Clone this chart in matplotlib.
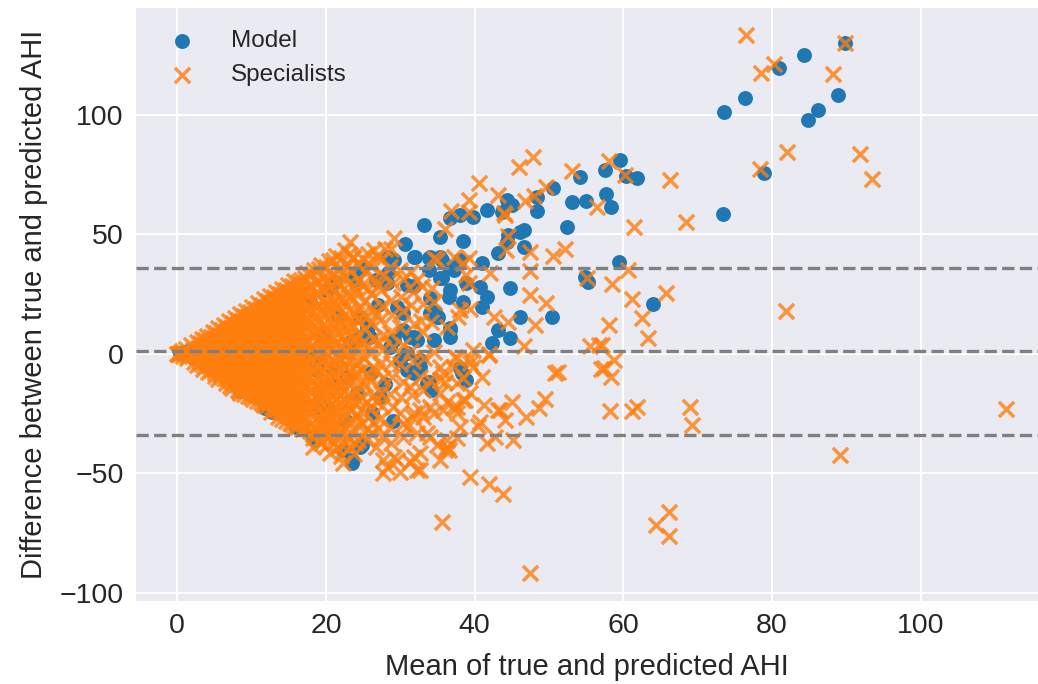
import matplotlib
matplotlib.use('Agg')
import matplotlib.pyplot as plt

# Bland-Altman points: (mean of true and predicted AHI, true - predicted AHI)

# model, low-AHI region (largely covered by the specialist crosses)
model_core = [
    (0.3, 0.2), (0.9, -0.6), (1.5, 1.1), (2.2, -1.8), (2.8, 2.5), (3.5, -0.7), (4.2, 3.9),
    (4.8, -3.6), (5.5, 1.2), (6.1, 6.8), (6.7, -5.9), (7.4, 3.1), (8.0, -9.8), (8.5, -15.5),
    (8.7, 9.4), (9.3, -2.7), (9.9, 13.8), (10.5, -11.9), (11.1, 5.6), (11.8, -22.5), (12.0, 19.0),
    (12.4, -6.4), (12.8, -24.5), (13.1, 15.2), (13.7, -16.8), (14.2, 1.9), (14.8, 21.4), (15.3, -9.1),
    (16.0, -30.5), (16.1, 10.7), (16.6, -21.3), (17.0, 20.4), (17.0, -4.0), (17.4, 0.2), (17.9, 21.7),
    (18.2, -35.0), (18.5, -36.0), (18.8, -6.8), (19.2, -18.0), (19.2, -2.6), (19.2, -23.5), (19.8, 8.6),
    (20.1, 26.6), (20.1, -22.1), (20.8, -5.4), (21.0, -12.4), (21.2, 30.1), (21.6, 16.2), (22.3, -40.2),
    (22.5, -27.5), (22.8, -9.6), (23.2, 4.8), (23.5, -44.4), (23.5, -45.8), (23.9, 32.2), (23.9, 30.8),
    (24.1, 33.6), (24.2, -16.5), (24.6, 7.1), (24.6, 15.5), (24.6, -38.9), (24.8, -38.2), (24.8, 35.7),
    (25.5, 9.9), (25.5, 11.3), (25.9, 7.1), (26.2, -24.9), (26.0, -8.0), (26.8, 30.8), (27.3, -18.0),
    (27.0, 20.5), (28.2, 29.4), (28.4, 33.6), (28.4, 40.5), (28.6, 2.9), (28.0, -12.5), (29.1, 39.4),
    (29.1, 5.7), (29.5, 19.6), (29.0, -28.0), (30.0, -2.6), (30.4, 9.9), (30.4, 16.9), (30.6, 46.1),
    (30.9, 28.7), (30.9, 0.2), (30.9, -6.8), (31.3, 7.1), (31.8, 28.3), (31.8, 40.3), (31.8, 7.1),
    (31.8, -8.2), (32.0, 40.5), (32.2, 5.7), (32.7, -5.4), (32.7, -2.6), (33.2, 53.8), (33.6, -12.4),
    (33.8, 39.9), (33.8, 35.0), (33.8, -11.7), (34.0, 40.3), (34.0, 23.2), (34.0, 16.9), (34.2, -15.2),
    (34.5, 5.7), (34.7, 17.6), (34.9, 15.5),
]

# model, higher AHI
model_outer = [
    (35.1, 15.5), (35.4, 48.9), (35.4, 31.5), (35.4, 40.5), (35.6, 39.2), (35.6, 31.5), (36.5, 36.1),
    (36.5, 23.8), (36.7, 56.6), (36.7, 26.6), (36.7, 10.6), (36.7, 9.9), (36.7, 7.1), (37.2, 35.0),
    (38.0, 58.0), (38.0, 39.2), (38.4, 47.2), (38.5, 21.7), (38.9, 29.4), (38.1, -6.1), (38.3, -8.2),
    (38.9, -11.0), (39.8, 57.3), (40.7, 28.0), (41.0, 37.8), (41.0, 19.6), (41.6, 60.3), (41.6, 23.8),
    (42.3, 4.3), (43.2, 42.0), (43.2, 9.9), (43.7, 59.3), (44.3, 64.2), (44.3, 46.8), (44.5, 49.6),
    (44.8, 27.3), (44.8, 6.8), (45.0, 62.1), (46.1, 51.0), (46.6, 51.7), (46.6, 44.5), (46.1, 15.5),
    (48.4, 65.6), (48.4, 59.6), (50.4, 15.5), (50.5, 69.4), (52.4, 52.8), (53.1, 63.3), (54.2, 74.0),
    (54.9, 32.2), (55.0, 63.9), (55.3, 30.1), (57.6, 76.9), (57.7, 66.6), (58.3, 61.2), (59.4, 38.4),
    (59.6, 80.9), (60.4, 74.4), (61.8, 73.3), (64.0, 20.8), (73.4, 58.5), (73.6, 101.0), (76.4, 107.0),
    (79.0, 75.6), (81.0, 119.4), (84.3, 124.8), (84.9, 97.7), (86.2, 101.8), (88.9, 108.2), (89.9, 130.0),
]

# specialists, solid low-AHI wedge
spec_core = [
    (0.0, 0.0), (0.1, 0.1), (0.2, -0.3), (0.3, 0.5), (0.6, 1.0), (0.8, -0.9), (0.7, 0.2),
    (1.2, 2.2), (1.4, 0.3), (1.3, -1.9), (1.5, -0.8), (1.9, 3.6), (2.1, 1.4), (2.0, -0.9), (2.2, -3.5),
    (2.6, 4.9), (2.8, 2.4), (2.7, 0.2), (2.9, -2.6), (2.6, -4.8),
    (3.3, 6.3), (3.5, 3.5), (3.4, 1.2), (3.6, -1.4), (3.3, -4.3), (3.5, -6.5),
    (4.0, 7.6), (4.2, 5.2), (4.1, 2.2), (4.3, -0.1), (4.0, -3.1), (4.2, -5.3), (4.1, -7.7),
    (4.8, 9.2), (5.0, 6.4), (4.9, 4.0), (5.1, 0.8), (4.8, -1.5), (5.0, -4.7), (4.9, -6.9), (5.1, -9.5),
    (5.5, 10.7), (5.7, 7.8), (5.6, 5.3), (5.8, 2.1), (5.5, -0.6), (5.7, -2.9), (5.6, -6.2), (5.8, -8.4), (5.5, -10.6),
    (6.3, 12.1), (6.5, 9.7), (6.4, 6.4), (6.6, 4.1), (6.3, 0.9), (6.5, -1.6), (6.4, -4.6), (6.6, -7.0),
    (6.3, -10.1), (6.5, -12.4),
    (7.0, 13.7), (7.2, 10.6), (7.1, 8.3), (7.3, 5.1), (7.0, 2.7), (7.2, -0.4), (7.1, -2.8), (7.3, -6.0),
    (7.0, -8.3), (7.2, -11.4), (7.1, -13.6),
    (7.8, 15.1), (8.0, 12.6), (7.9, 9.4), (8.1, 7.1), (7.8, 3.9), (8.0, 1.5), (7.9, -1.6), (8.1, -4.0),
    (7.8, -7.2), (8.0, -9.5), (7.9, -12.7), (8.1, -15.1),
    (8.5, 16.7), (8.7, 13.6), (8.6, 11.3), (8.8, 8.1), (8.5, 5.7), (8.7, 2.6), (8.6, 0.2), (8.8, -3.0),
    (8.5, -5.4), (8.7, -8.5), (8.6, -10.9), (8.8, -14.0), (8.5, -16.2),
    (9.3, 18.0), (9.5, 15.6), (9.4, 12.4), (9.6, 10.1), (9.3, 6.9), (9.5, 4.6), (9.4, 1.4), (9.6, -1.0),
    (9.3, -4.2), (9.5, -6.5), (9.4, -9.7), (9.6, -12.0), (9.3, -15.2), (9.5, -17.6),
    (10.1, 19.7), (10.3, 16.7), (10.2, 14.3), (10.4, 11.2), (10.1, 8.8), (10.3, 5.7), (10.2, 3.3),
    (10.4, 0.2), (10.1, -2.2), (10.3, -5.4), (10.2, -7.7), (10.4, -10.9), (10.1, -13.2), (10.3, -16.4),
    (10.2, -18.8),
    (10.9, 21.1), (11.1, 18.6), (11.0, 15.5), (11.2, 13.1), (10.9, 10.0), (11.1, 7.6), (11.0, 4.5),
    (11.2, 2.1), (10.9, -1.0), (11.1, -3.4), (11.0, -6.5), (11.2, -8.9), (10.9, -12.0), (11.1, -14.4),
    (11.0, -17.5), (11.2, -20.0),
    (11.7, 22.7), (11.9, 19.7), (11.8, 17.3), (12.0, 14.2), (11.7, 11.8), (11.9, 8.7), (11.8, 6.3),
    (12.0, 3.2), (11.7, 0.8), (11.9, -2.3), (11.8, -4.7), (12.0, -7.8), (11.7, -10.2), (11.9, -13.3),
    (11.8, -15.7), (12.0, -18.8), (11.7, -21.4),
    (12.5, 24.1), (12.7, 21.6), (12.6, 18.5), (12.8, 16.1), (12.5, 13.0), (12.7, 10.6), (12.6, 7.5),
    (12.8, 5.1), (12.5, 2.0), (12.7, -0.4), (12.6, -3.5), (12.8, -5.9), (12.5, -9.0), (12.7, -11.4),
    (12.6, -14.5), (12.8, -16.9), (12.5, -20.0), (12.7, -22.4), (12.6, -24.3),
    (13.3, 25.8), (13.5, 22.8), (13.4, 20.4), (13.6, 17.3), (13.3, 14.9), (13.5, 11.8), (13.4, 9.4),
    (13.6, 6.3), (13.3, 3.9), (13.5, 0.8), (13.4, -1.6), (13.6, -4.7), (13.3, -7.1), (13.5, -10.2),
    (13.4, -12.6), (13.6, -15.7), (13.3, -18.1), (13.5, -21.2), (13.4, -23.6), (13.6, -26.3),
    (14.1, 27.2), (14.3, 24.8), (14.2, 21.6), (14.4, 19.3), (14.1, 16.1), (14.3, 13.8), (14.2, 10.6),
    (14.4, 8.3), (14.1, 5.1), (14.3, 2.8), (14.2, -0.4), (14.4, -2.7), (14.1, -5.9), (14.3, -8.2),
    (14.2, -11.4), (14.4, -13.7), (14.1, -16.9), (14.3, -19.2), (14.2, -22.4), (14.4, -24.7), (14.1, -27.3),
    (14.9, 28.9), (15.1, 25.9), (15.0, 23.5), (15.2, 20.4), (14.9, 18.0), (15.1, 14.9), (15.0, 12.5),
    (15.2, 9.4), (14.9, 7.0), (15.1, 3.9), (15.0, 1.5), (15.2, -1.6), (14.9, -4.0), (15.1, -7.1),
    (15.0, -9.5), (15.2, -12.6), (14.9, -15.0), (15.1, -18.1), (15.0, -20.5), (15.2, -23.6),
    (14.9, -26.0), (15.1, -28.9),
    (15.7, 30.3), (15.9, 27.3), (15.8, 24.9), (16.0, 21.8), (15.7, 19.4), (15.9, 16.3), (15.8, 13.9),
    (16.0, 10.8), (15.7, 8.4), (15.9, 5.3), (15.8, 2.9), (16.0, -0.2), (15.7, -2.6), (15.9, -5.7),
    (15.8, -8.1), (16.0, -11.2), (15.7, -13.6), (15.9, -16.7), (15.8, -19.1), (16.0, -22.2),
    (15.7, -24.6), (15.9, -27.7), (15.8, -30.0),
]

# specialists, further points packed between the ones above
spec_fill = [
    (3.0, 4.5), (2.9, 1.8), (3.1, -0.9), (3.0, -3.6),
    (3.7, 5.8), (3.8, 3.0), (3.6, 0.3), (3.8, -2.4), (3.7, -5.2),
    (4.5, 7.2), (4.4, 4.4), (4.6, 1.6), (4.5, -1.2), (4.4, -4.0), (4.6, -6.8),
    (5.2, 8.6), (5.3, 5.9), (5.1, 3.1), (5.3, 0.3), (5.2, -2.4), (5.3, -5.2), (5.1, -8.0),
    (6.0, 10.0), (5.9, 7.2), (6.1, 4.5), (6.0, 1.7), (5.9, -1.0), (6.1, -3.8), (6.0, -6.5), (5.9, -9.3),
    (6.7, 11.4), (6.8, 8.6), (6.6, 5.9), (6.8, 3.1), (6.7, 0.3), (6.8, -2.4), (6.6, -5.2), (6.8, -7.9),
    (6.7, -10.7),
    (7.5, 12.9), (7.4, 10.1), (7.6, 7.4), (7.5, 4.6), (7.4, 1.9), (7.6, -0.9), (7.5, -3.6), (7.4, -6.4),
    (7.6, -9.1), (7.5, -11.9), (7.4, -14.3),
    (8.2, 14.3), (8.3, 11.6), (8.1, 8.8), (8.3, 6.1), (8.2, 3.3), (8.3, 0.6), (8.1, -2.2), (8.3, -4.9),
    (8.2, -7.7), (8.3, -10.4), (8.1, -13.2), (8.3, -15.6),
    (9.0, 15.9), (8.9, 13.1), (9.1, 10.4), (9.0, 7.6), (8.9, 4.9), (9.1, 2.1), (9.0, -0.6), (8.9, -3.4),
    (9.1, -6.1), (9.0, -8.9), (8.9, -11.6), (9.1, -14.4), (9.0, -16.8),
    (9.8, 17.4), (9.9, 14.6), (9.7, 11.9), (9.9, 9.1), (9.8, 6.4), (9.9, 3.6), (9.7, 0.9), (9.9, -1.9),
    (9.8, -4.6), (9.9, -7.4), (9.7, -10.1), (9.9, -12.9), (9.8, -15.6), (9.9, -18.2),
    (10.6, 18.9), (10.5, 16.1), (10.7, 13.4), (10.6, 10.6), (10.5, 7.9), (10.7, 5.1), (10.6, 2.4),
    (10.5, -0.4), (10.7, -3.1), (10.6, -5.9), (10.5, -8.6), (10.7, -11.4), (10.6, -14.1), (10.5, -16.9),
    (10.7, -19.6),
    (11.4, 20.5), (11.5, 17.7), (11.3, 15.0), (11.5, 12.2), (11.4, 9.5), (11.5, 6.7), (11.3, 4.0),
    (11.5, 1.2), (11.4, -1.5), (11.5, -4.3), (11.3, -7.0), (11.5, -9.8), (11.4, -12.5), (11.5, -15.3),
    (11.3, -18.0), (11.5, -20.8),
    (12.2, 22.0), (12.1, 19.2), (12.3, 16.5), (12.2, 13.7), (12.1, 11.0), (12.3, 8.2), (12.2, 5.5),
    (12.1, 2.7), (12.3, 0.0), (12.2, -2.8), (12.1, -5.5), (12.3, -8.3), (12.2, -11.0), (12.1, -13.8),
    (12.3, -16.5), (12.2, -19.3), (12.1, -22.0),
    (13.0, 23.6), (13.1, 20.8), (12.9, 18.1), (13.1, 15.3), (13.0, 12.6), (13.1, 9.8), (12.9, 7.1),
    (13.1, 4.3), (13.0, 1.6), (13.1, -1.2), (12.9, -3.9), (13.1, -6.7), (13.0, -9.4), (13.1, -12.2),
    (12.9, -14.9), (13.1, -17.7), (13.0, -20.4), (13.1, -23.2),
    (13.8, 25.1), (13.7, 22.3), (13.9, 19.6), (13.8, 16.8), (13.7, 14.1), (13.9, 11.3), (13.8, 8.6),
    (13.7, 5.8), (13.9, 3.1), (13.8, 0.3), (13.7, -2.4), (13.9, -5.2), (13.8, -7.9), (13.7, -10.7),
    (13.9, -13.4), (13.8, -16.2), (13.7, -18.9), (13.9, -21.7), (13.8, -24.4),
    (14.6, 26.7), (14.7, 23.9), (14.5, 21.2), (14.7, 18.4), (14.6, 15.7), (14.7, 12.9), (14.5, 10.2),
    (14.7, 7.4), (14.6, 4.7), (14.7, 1.9), (14.5, -0.8), (14.7, -3.6), (14.6, -6.3), (14.7, -9.1),
    (14.5, -11.8), (14.7, -14.6), (14.6, -17.3), (14.7, -20.1), (14.5, -22.8), (14.7, -25.6), (14.6, -28.0),
    (15.4, 28.2), (15.3, 25.4), (15.5, 22.7), (15.4, 19.9), (15.3, 17.2), (15.5, 14.4), (15.4, 11.7),
    (15.3, 8.9), (15.5, 6.2), (15.4, 3.4), (15.3, 0.7), (15.5, -2.1), (15.4, -4.8), (15.3, -7.6),
    (15.5, -10.3), (15.4, -13.1), (15.3, -15.8), (15.5, -18.6), (15.4, -21.3), (15.3, -24.1),
    (15.5, -26.8), (15.4, -29.3),
    (16.2, 29.8), (16.3, 27.0), (16.1, 24.3), (16.3, 21.5), (16.2, 18.8), (16.3, 16.0), (16.1, 13.3),
    (16.3, 10.5), (16.2, 7.8), (16.3, 5.0), (16.1, 2.3), (16.3, -0.5), (16.2, -3.2), (16.3, -6.0),
    (16.1, -8.7), (16.3, -11.5), (16.2, -14.2), (16.3, -17.0), (16.1, -19.7), (16.3, -22.5),
    (16.2, -25.2), (16.3, -28.0), (16.1, -30.7),
    (17.2, 31.5), (17.3, 27.2), (17.1, 22.4), (17.3, 18.1), (17.2, 13.3), (17.1, 9.1), (17.3, 4.6),
    (17.2, 0.1), (17.1, -4.4), (17.3, -9.1), (17.2, -13.4), (17.1, -18.2), (17.3, -22.4), (17.2, -27.1),
    (17.1, -31.2),
    (18.1, 33.2), (18.0, 27.9), (18.2, 23.1), (18.1, 17.8), (18.0, 13.2), (18.2, 8.1), (18.1, 3.2),
    (18.0, -2.1), (18.2, -6.8), (18.1, -11.2), (18.0, -15.1), (18.2, -20.2), (18.1, -24.4), (18.0, -29.2),
    (18.2, -33.3),
    (19.0, 35.3), (19.1, 30.2), (18.9, 24.8), (19.1, 20.2), (19.0, 14.6), (18.9, 9.3), (19.1, 4.7),
    (19.0, -0.2), (18.9, -5.1), (19.1, -9.4), (19.0, -14.2), (18.9, -19.1), (19.1, -23.4), (19.0, -28.2),
    (18.9, -32.4), (19.1, -36.6),
    (20.0, 36.2), (20.1, 30.8), (19.9, 26.1), (20.1, 20.8), (20.0, 16.2), (19.9, 10.3), (20.1, 5.6),
    (20.0, 0.3), (19.9, -4.6), (20.1, -9.2), (20.0, -13.8), (19.9, -18.7), (20.1, -22.8), (20.0, -28.2),
    (19.9, -32.8), (20.1, -38.1),
    (21.0, 39.4), (21.1, 32.8), (20.9, 27.7), (21.1, 21.8), (21.0, 17.2), (20.9, 11.3), (21.1, 6.7),
    (21.0, 1.3), (20.9, -3.6), (21.1, -8.4), (21.0, -13.7), (20.9, -17.8), (21.1, -23.2), (21.0, -27.4),
    (20.9, -32.6), (21.1, -37.3),
    (22.0, 40.2), (22.1, 33.8), (21.9, 28.2), (22.1, 22.8), (22.0, 17.7), (21.9, 12.3), (22.1, 7.6),
    (22.0, 2.3), (21.9, -2.7), (22.1, -7.3), (22.0, -12.6), (21.9, -17.3), (22.1, -22.7), (22.0, -27.8),
    (21.9, -33.2), (22.1, -38.3), (22.0, -42.8),
    (23.1, 41.8), (23.2, 35.2), (23.0, 29.3), (23.2, 24.2), (23.1, 18.3), (23.0, 13.2), (23.2, 7.8),
    (23.1, 3.2), (23.0, -2.7), (23.2, -7.3), (23.1, -12.7), (23.0, -17.3), (23.2, -23.2), (23.1, -28.3),
    (23.0, -34.2), (23.2, -38.8),
    (24.3, 37.2), (24.4, 30.8), (24.2, 25.7), (24.4, 19.3), (24.3, 14.2), (24.2, 8.3), (24.4, 2.7),
    (24.3, -3.2), (24.2, -7.8), (24.4, -13.7), (24.3, -19.3), (24.2, -25.2), (24.4, -30.3), (24.3, -36.2),
    (25.6, 37.8), (25.7, 27.2), (25.5, 15.2), (25.7, 3.3), (25.6, -8.7), (25.5, -20.2), (25.7, -31.3),
    (26.9, 40.8), (27.0, 28.8), (26.8, 16.8), (27.0, 4.7), (26.9, -7.3), (26.8, -19.7), (27.0, -31.2),
]

# specialists, 16-35 band where the wedge thins out
spec_mid = [
    (16.6, 31.0), (17.0, 26.3), (16.8, 22.1), (16.5, 17.0), (16.9, 12.9), (16.7, 8.2), (17.0, 4.1),
    (16.6, -0.8), (16.9, -5.0), (16.7, -9.7), (17.0, -13.8), (16.6, -18.6), (16.9, -22.7), (16.7, -27.5),
    (16.8, -31.6),
    (17.5, 33.6), (17.9, 28.6), (17.6, 24.2), (17.8, 19.1), (17.5, 14.8), (17.9, 9.6), (17.7, 5.3),
    (17.5, 0.2), (17.8, -4.1), (17.6, -9.2), (17.9, -13.6), (17.5, -18.7), (17.8, -23.0), (17.6, -28.1),
    (17.9, -32.4),
    (18.4, 35.0), (18.7, 30.2), (18.5, 25.3), (18.8, 20.3), (18.4, 15.2), (18.6, 10.2), (18.9, 5.8),
    (18.5, 1.0), (18.7, -3.7), (18.4, -8.0), (18.8, -12.8), (18.6, -17.3), (18.5, -22.0), (18.9, -26.4),
    (18.6, -31.4), (18.3, -35.3), (18.3, -38.9),
    (19.4, 37.2), (19.8, 32.0), (19.5, 27.2), (19.7, 22.3), (19.4, 17.0), (19.8, 12.2), (19.6, 7.3),
    (19.3, 2.6), (19.7, -2.2), (19.5, -7.2), (19.8, -11.6), (19.4, -16.6), (19.6, -21.2), (19.9, -25.6),
    (19.5, -30.2), (19.7, -33.8), (19.4, -37.3),
    (20.4, 38.7), (20.8, 33.2), (20.5, 28.3), (20.7, 23.2), (20.4, 18.3), (20.9, 13.2), (20.6, 8.0),
    (20.3, 3.2), (20.8, -2.0), (20.5, -6.7), (20.7, -11.3), (20.4, -16.2), (20.8, -20.6), (20.5, -25.7),
    (20.7, -30.2), (20.6, -41.6), (20.4, -35.0),
    (21.4, 41.0), (21.8, 35.6), (21.5, 30.3), (21.7, 24.3), (21.3, 19.4), (21.9, 14.3), (21.6, 9.2),
    (21.4, 4.0), (21.8, -1.2), (21.5, -6.2), (21.7, -10.8), (21.3, -16.0), (21.9, -20.3), (21.6, -25.2),
    (21.4, -29.8), (21.8, -34.8), (21.5, -39.3),
    (22.5, 43.2), (22.9, 37.3), (22.6, 32.2), (22.8, 26.0), (22.4, 21.2), (23.0, 15.3), (22.7, 10.2),
    (22.5, 5.0), (22.9, 0.2), (22.6, -5.2), (22.8, -10.3), (22.4, -15.4), (23.0, -19.8), (22.7, -25.7),
    (22.5, -30.8), (22.9, -36.2), (22.3, -45.8),
    (23.3, 46.8), (23.7, 40.5), (23.7, 39.9), (23.9, 27.8), (23.6, 22.7), (24.0, 16.8), (23.7, 11.2),
    (23.9, 5.8), (23.6, 1.2), (24.0, -4.7), (23.7, -9.3), (23.9, -15.0), (23.6, -20.0), (24.0, -26.2),
    (23.7, -31.3), (23.9, -37.2), (23.8, -41.8),
    (24.8, 40.2), (25.2, 34.3), (24.9, 28.7), (25.1, 21.8), (24.8, 16.7), (25.2, 10.3), (24.9, 4.7),
    (25.1, -1.7), (24.8, -6.8), (25.2, -12.7), (24.9, -18.3), (25.1, -24.2), (24.8, -29.3), (25.5, -36.1),
    (25.7, 41.9), (26.4, 43.3), (26.0, 36.8), (26.4, 31.7), (26.1, 24.8), (26.3, 19.2), (26.0, 12.8),
    (26.4, 6.7), (26.1, 0.3), (26.3, -5.7), (26.0, -11.3), (26.4, -17.2), (26.1, -23.3), (26.3, -28.7),
    (26.0, -33.3), (26.8, -38.9),
    (27.9, 44.0), (27.4, 39.2), (27.7, 32.8), (27.4, 26.7), (27.6, 19.8), (27.3, 14.2), (27.7, 7.8),
    (27.5, 1.7), (27.3, -4.2), (27.7, -10.3), (27.4, -16.2), (27.6, -21.8), (27.3, -27.2), (27.6, -34.8),
    (27.7, -44.4), (27.7, -50.0), (28.2, -47.2),
    (29.1, 48.2), (28.8, 44.0), (28.6, 36.3), (29.0, 29.7), (28.7, 22.3), (28.9, 16.2), (28.6, 8.8),
    (29.0, 2.7), (28.7, -3.7), (28.9, -9.8), (28.6, -16.7), (29.0, -22.3), (28.6, -30.5), (28.8, -37.2),
    (29.1, -43.0), (29.5, -44.4),
    (30.0, 35.0), (30.3, 31.2), (30.1, 23.8), (30.4, 17.7), (30.0, 11.3), (30.3, 3.7), (30.0, -4.3),
    (30.4, -11.7), (30.1, -18.2), (30.0, -24.9), (30.3, -29.2), (30.4, -34.7), (30.0, -49.3), (30.9, -30.5),
    (31.5, 34.2), (31.7, 25.8), (31.4, 20.2), (31.8, 12.3), (31.5, 1.2), (31.7, -3.2), (31.3, -13.8),
    (31.6, -17.2), (31.7, -26.3), (31.8, -24.9), (31.8, -43.0), (31.3, -45.1),
    (32.2, 30.8), (32.9, 28.2), (33.1, 20.8), (32.8, 13.7), (33.1, 9.3), (32.7, -9.6), (33.2, -1.7),
    (32.7, -23.5), (33.1, -26.3), (32.2, -33.3), (33.6, -33.3), (32.7, -41.6), (32.2, -48.6), (32.7, -48.6),
    (33.1, -15.2), (34.0, -11.0), (34.5, 39.9), (34.3, 27.3), (34.6, 21.8), (34.2, 13.2), (34.5, 0.7),
    (34.0, -22.1), (34.5, -24.9), (34.0, -34.7), (34.9, -38.2),
]

# specialists, sparse part and outliers
spec_outer = [
    (34.9, 39.2), (35.4, -5.4), (35.4, -11.0), (35.4, -16.5), (35.8, -8.2), (36.0, -11.7), (35.8, -23.5),
    (35.4, -44.4), (35.6, -70.2), (36.0, 52.0), (36.0, -40.2), (36.3, 11.3), (36.3, -20.1), (36.3, -36.1),
    (36.3, -38.9), (36.5, -40.2), (36.8, 59.6), (37.1, -22.1), (37.2, 40.5), (37.2, -5.4), (37.4, -1.2),
    (37.6, -1.9), (37.6, -12.4), (37.6, -22.1), (37.6, -24.9), (37.6, -35.4), (37.8, 15.5), (38.0, 18.3),
    (38.0, -30.5), (38.5, 37.8), (38.5, -10.3), (38.5, -19.3), (38.7, -19.3), (38.9, 32.9), (39.2, 29.4),
    (39.2, 39.9), (39.3, 64.5), (39.3, 59.3), (39.4, 18.6), (39.4, -1.9), (39.4, -4.0), (39.4, -16.6),
    (39.4, -51.4), (39.8, 1.5), (39.8, -5.4), (40.5, -30.2), (40.6, 71.5), (40.7, -28.4), (41.0, -9.6),
    (41.3, -21.4), (41.6, -37.4), (41.9, -0.1), (42.0, -0.5), (42.0, -54.5), (42.1, 33.6), (42.6, 15.5),
    (42.8, -34.7), (43.1, 66.3), (43.2, -23.5), (43.4, -23.5), (43.8, -58.8), (43.9, 58.7), (44.1, 58.0),
    (44.1, -27.7), (44.2, 43.3), (44.5, 49.2), (44.5, 13.4), (45.0, -20.1), (45.2, -36.1), (46.0, 78.2),
    (46.6, 3.2), (46.8, 63.9), (46.9, -26.6), (47.4, 42.6), (47.4, 24.5), (47.4, -91.8), (47.5, 34.7),
    (47.8, 82.1), (48.0, 65.9), (48.1, 12.0), (48.6, -22.8), (49.5, -19.1), (49.6, 69.8), (49.6, 21.1),
    (50.6, 40.8), (50.8, -8.2), (51.2, -7.5), (52.2, 44.0), (53.1, 76.3), (55.1, 31.5), (55.5, 3.2),
    (56.5, 61.4), (56.8, 3.6), (57.0, -6.5), (57.1, 3.6), (57.4, -6.1), (58.1, 80.7), (58.1, 12.0),
    (58.2, -23.8), (58.3, -9.6), (58.5, 29.0), (58.7, -2.6), (60.3, 74.7), (60.6, 35.0), (61.2, 23.0),
    (61.2, -23.8), (61.4, 52.9), (61.8, -22.4), (62.5, 14.8), (63.3, 6.4), (64.4, -71.6), (65.8, 25.5),
    (66.2, -66.0), (66.2, -76.2), (66.3, 72.7), (68.5, 55.0), (69.0, -22.1), (69.2, -29.8), (76.5, 133.3),
    (78.4, 77.1), (78.5, 117.3), (80.3, 121.1), (81.9, 17.8), (82.0, 84.2), (88.2, 116.9), (89.1, -42.3),
    (89.9, 130.0), (91.8, 83.7), (93.5, 73.0), (111.5, -23.2),
]

# mean difference and limits of agreement
bias = 1.0
upper_loa = 35.9
lower_loa = -34.0

plt.style.use('seaborn-v0_8-darkgrid')
plt.rcParams['font.family'] = ['Liberation Sans', 'DejaVu Sans']
plt.rcParams['text.color'] = '.15'
plt.rcParams['xtick.color'] = '.15'
plt.rcParams['ytick.color'] = '.15'
plt.rcParams['axes.labelcolor'] = '.15'

model = model_core + model_outer
spec = spec_core + spec_fill + spec_mid + spec_outer
model_x = [p[0] for p in model]
model_y = [p[1] for p in model]
spec_x = [p[0] for p in spec]
spec_y = [p[1] for p in spec]

fig = plt.figure(figsize=(10.38, 6.84), dpi=100)
ax = fig.add_axes([0.131, 0.122, 0.869, 0.866])

ax.scatter(model_x, model_y, s=115, marker='o', color='#1f77b4', linewidths=0, label='Model')
ax.scatter(spec_x, spec_y, s=120, marker='x', color='#ff7f0e', alpha=0.8, linewidths=2.5,
           label='Specialists')

for level in (bias, upper_loa, lower_loa):
    ax.axhline(level, color='grey', linestyle='--', linewidth=2.4)

ax.set_xlim(-5.56, 115.8)
ax.set_ylim(-103.2, 144.5)
ax.set_xticks([0, 20, 40, 60, 80, 100])
ax.set_yticks([-100, -50, 0, 50, 100])
ax.grid(True, color='white', linewidth=1.5)
ax.tick_params(labelsize=20.5, pad=9, length=0)

ax.set_xlabel('Mean of true and predicted AHI', fontsize=21, labelpad=10)
ax.set_ylabel('Difference between true and predicted AHI', fontsize=21, labelpad=8)

ax.legend(loc='upper left', frameon=False, fontsize=17.5, borderaxespad=0.5, handletextpad=1.0,
          labelspacing=0.5)

fig.savefig('out.png', dpi=100)
